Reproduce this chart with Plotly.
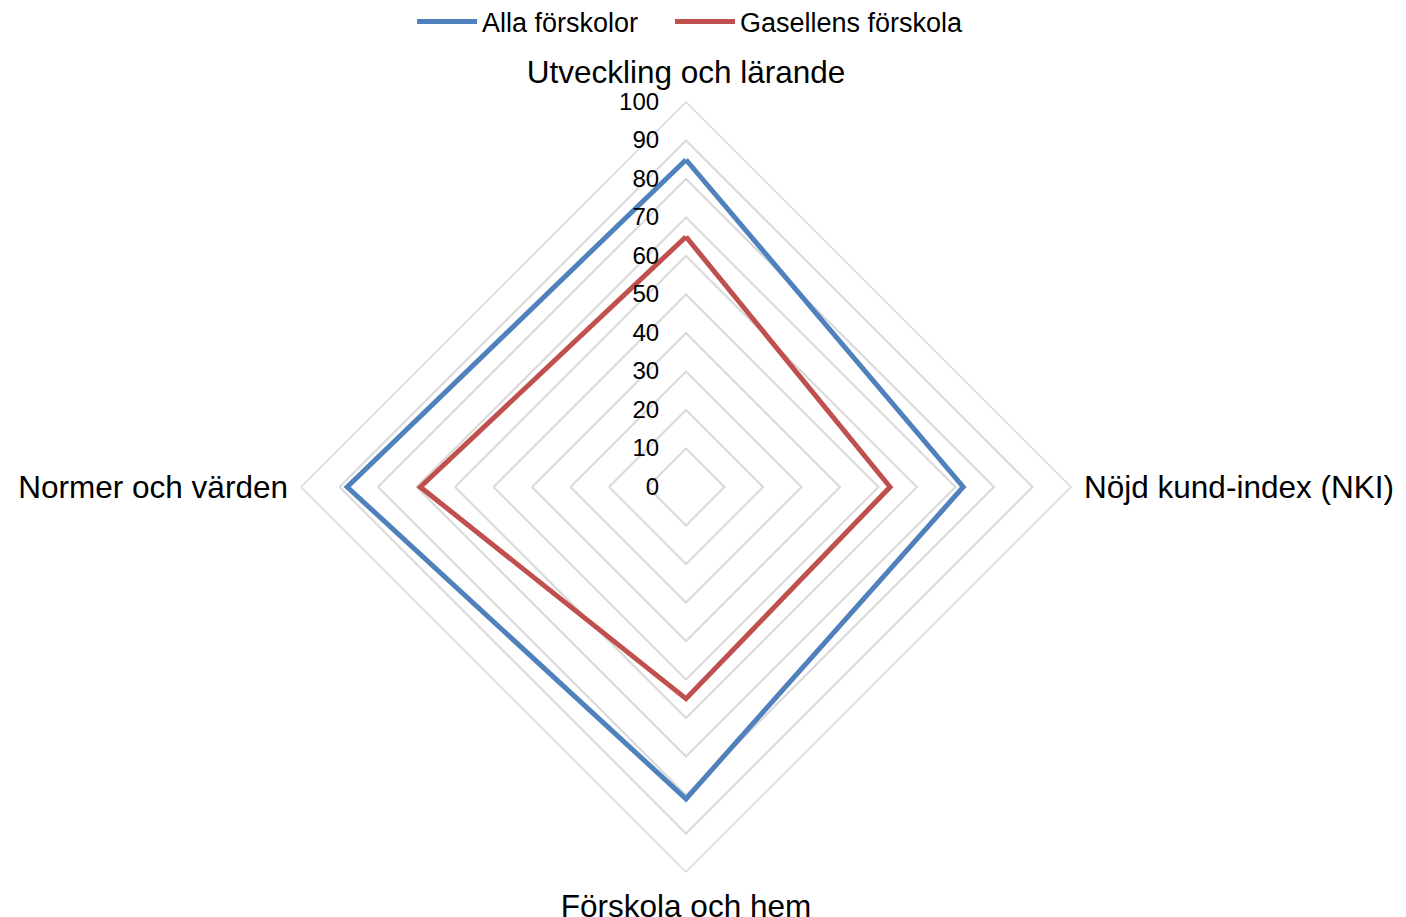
import plotly.graph_objects as go

categories = ["Utveckling och lärande", "Nöjd kund-index (NKI)", "Förskola och hem", "Normer och värden"]
alla_forskolor = [85, 72, 81, 88]
gasellens_forskola = [65, 53, 55, 69]
radial_ticks = [0, 10, 20, 30, 40, 50, 60, 70, 80, 90, 100]

W, H = 1406, 917
cx, cy, R = 686, 487, 385

fig = go.Figure()
fig.add_trace(go.Scatterpolar(
    r=alla_forskolor + alla_forskolor[:1],
    theta=categories + categories[:1],
    mode="lines", name="Alla förskolor",
    line=dict(color="#4F81BD", width=5),
    legend="legend",
))
fig.add_trace(go.Scatterpolar(
    r=gasellens_forskola + gasellens_forskola[:1],
    theta=categories + categories[:1],
    mode="lines", name="Gasellens förskola",
    line=dict(color="#C0504D", width=5),
    legend="legend2",
))

legend_common = dict(
    orientation="h", xanchor="left", y=1 - 22 / H, yanchor="middle",
    font=dict(size=27), bgcolor="rgba(0,0,0,0)", itemwidth=60,
)

fig.update_layout(
    width=W, height=H,
    margin=dict(l=0, r=0, t=0, b=0, autoexpand=False),
    paper_bgcolor="white",
    font=dict(family="Liberation Sans, Arial, sans-serif", color="#000000"),
    polar=dict(
        domain=dict(x=[(cx - R) / W, (cx + R) / W], y=[(H - cy - R) / H, (H - cy + R) / H]),
        bgcolor="white",
        gridshape="linear",
        radialaxis=dict(
            range=[0, 100], tickvals=radial_ticks, angle=90, side="counterclockwise",
            showline=False, showgrid=True, gridcolor="#D9D9D9", gridwidth=1.5,
            ticks="outside", ticklen=18, tickcolor="rgba(0,0,0,0)",
            tickfont=dict(size=24), tickangle=90,
        ),
        angularaxis=dict(
            direction="clockwise", rotation=90,
            showgrid=False, showline=True, linecolor="#D9D9D9", linewidth=1.5,
            ticks="outside", ticklen=6, tickcolor="rgba(0,0,0,0)",
            tickfont=dict(size=31.5),
        ),
    ),
    showlegend=True,
    legend=dict(x=412 / W, **legend_common),
    legend2=dict(x=670 / W, **legend_common),
)

fig.write_html("out.html", config={"displayModeBar": False},
               post_script="document.body.style.margin='0px';")
